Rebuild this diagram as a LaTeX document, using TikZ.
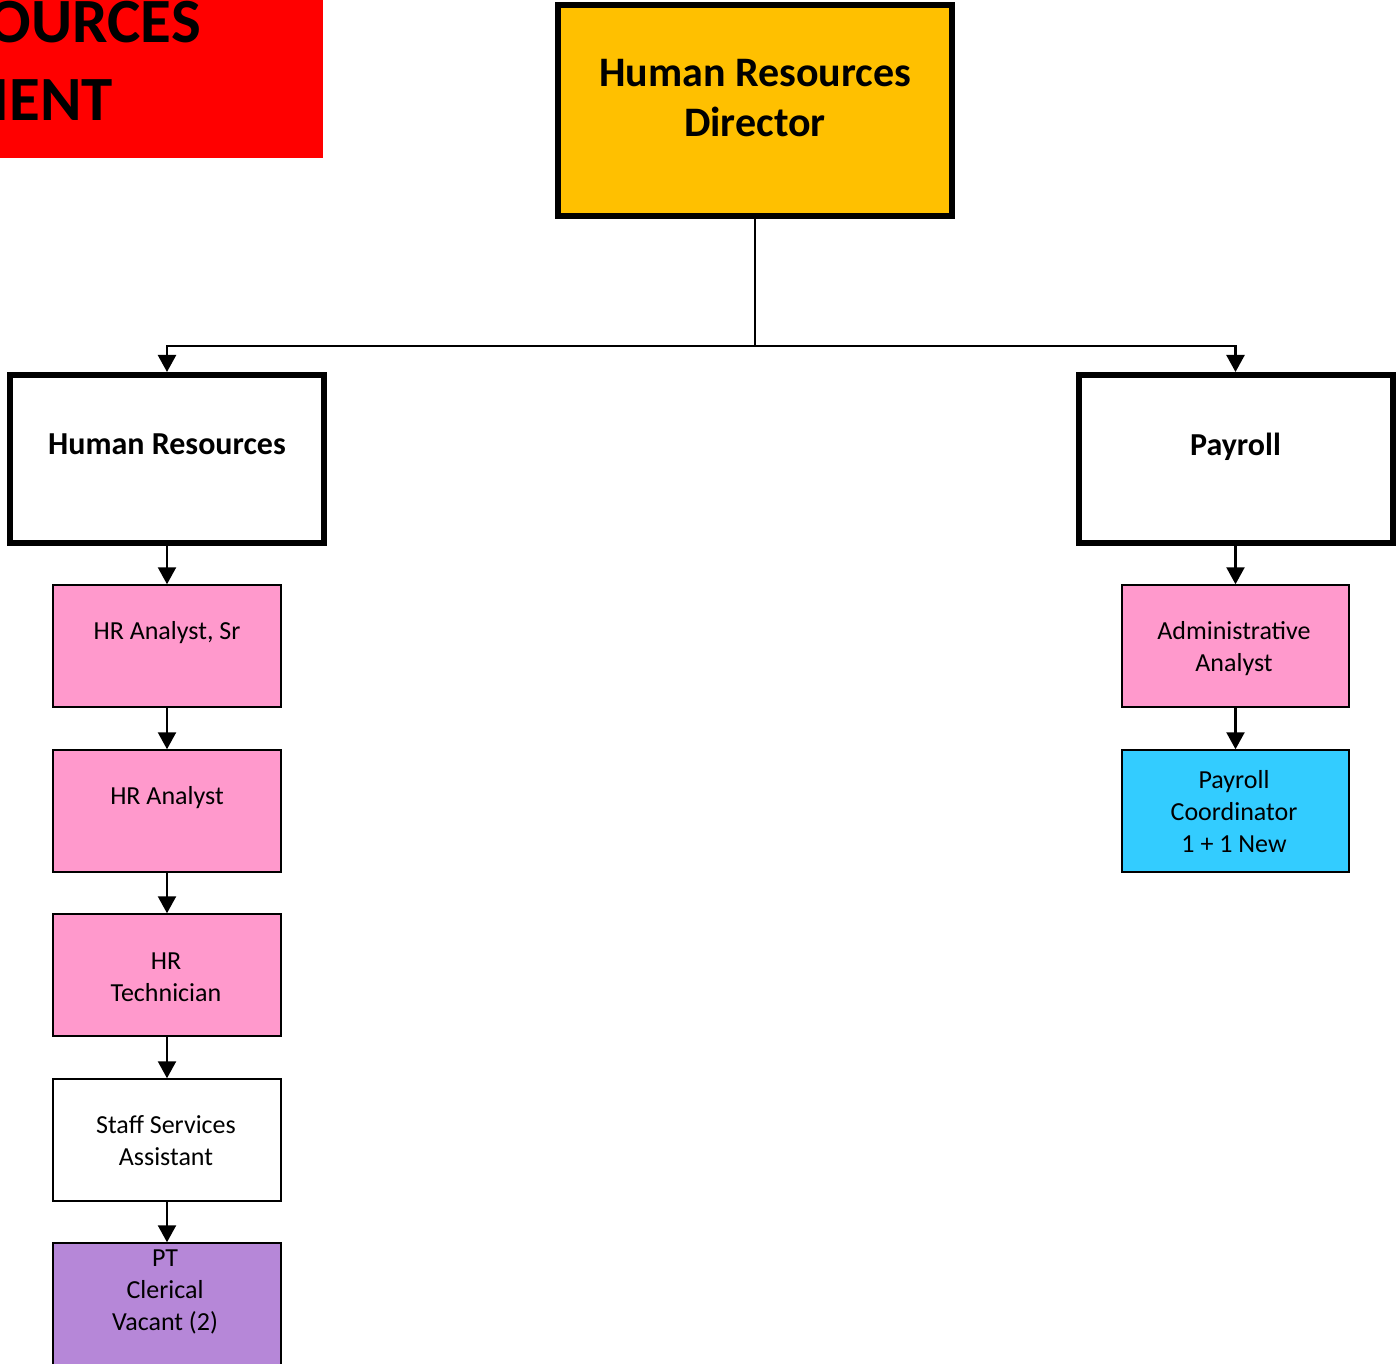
\documentclass[tikz,border=0pt]{standalone}
\usepackage{fontspec}
\setmainfont{Carlito}
\usetikzlibrary{arrows.meta}
\definecolor{dirgold}{HTML}{FFC000}
\definecolor{rolepink}{HTML}{FF99CC}
\definecolor{roleblue}{HTML}{33CCFF}
\definecolor{rolepurple}{HTML}{B687D8}
\definecolor{bannerred}{HTML}{FF0000}
\tikzset{
  headbox/.style={draw=black, line width=6pt, inner sep=0pt, minimum width=314pt, minimum height=168pt},
  rolebox/.style={draw=black, line width=1.5pt, inner sep=0pt, minimum width=228pt, minimum height=122pt},
  roletext/.style={anchor=base, align=center, inner sep=0pt, font=\fontsize{26}{32}\selectfont},
  headtext/.style={anchor=base, inner sep=0pt, font=\fontsize{32}{38}\selectfont\bfseries},
  link/.style={line width=2.4pt, draw=black},
  linkarrow/.style={link, -{Triangle[length=17pt,width=18pt]}},
}
\begin{document}
\begin{tikzpicture}[x=1pt, y=-1pt]
  \useasboundingbox (0,0) rectangle (1398,1364);
  \clip (0,0) rectangle (1398,1364);

  % banner in the corner (runs off the left edge)
  \fill[bannerred] (-20,-20) rectangle (323,158);
  \node[anchor=base east, inner sep=0pt, font=\fontsize{63}{76}\selectfont\bfseries] (ban1) at (201,43) {OURCES};
  \node[anchor=base east, inner sep=0pt, font=\fontsize{63}{76}\selectfont\bfseries] (ban2) at (113,121) {IENT};

  % director
  \node[draw=black, fill=dirgold, line width=6pt, inner sep=0pt, minimum width=394pt, minimum height=211pt] (dir) at (755,110.5) {};
  \node[anchor=base, align=center, inner sep=0pt, font=\fontsize{42}{50}\selectfont\bfseries] (dirt) at (755,137) {Human Resources\\Director};

  % division heads
  \node[headbox] (hr) at (167,459) {};
  \node[headtext] (hrt) at (167,454) {Human Resources};
  \node[headbox] (pay) at (1235.5,459) {};
  \node[headtext] (payt) at (1235.5,455) {Payroll};

  % human resources column (text anchored on the last line's baseline)
  \node[rolebox, fill=rolepink] (sr) at (167,646) {};
  \node[roletext] (srt) at (167,639) {HR Analyst, Sr};
  \node[rolebox, fill=rolepink] (an) at (167,811) {};
  \node[roletext] (ant) at (167,804) {HR Analyst};
  \node[rolebox, fill=rolepink] (tech) at (167,975) {};
  \node[roletext] (techt) at (166,1001) {HR\\Technician};
  \node[rolebox, fill=white] (ssa) at (167,1140) {};
  \node[roletext] (ssat) at (166,1165) {Staff Services\\Assistant};
  \node[rolebox, fill=rolepurple] (pt) at (167,1304) {};
  \node[roletext] (ptt) at (165,1330) {PT\\Clerical\\Vacant (2)};

  % payroll column
  \node[rolebox, minimum width=227pt, fill=rolepink] (adm) at (1235.5,646) {};
  \node[roletext] (admt) at (1234,671) {Administrative\\Analyst};
  \node[rolebox, minimum width=227pt, fill=roleblue] (coord) at (1235.5,811) {};
  \node[roletext] (coordt) at (1234,852) {Payroll\\Coordinator\\1 + 1 New};

  % reporting lines
  \coordinate (bus) at (755,346);
  \draw[link] (dir.south) -- (bus);
  \draw[linkarrow] (bus) -| (hr.north);
  \draw[linkarrow] (bus) -| (pay.north);
  \draw[linkarrow] (hr.south) -- (sr.north);
  \draw[linkarrow] (sr.south) -- (an.north);
  \draw[linkarrow] (an.south) -- (tech.north);
  \draw[linkarrow] (tech.south) -- (ssa.north);
  \draw[linkarrow] (ssa.south) -- (pt.north);
  \draw[linkarrow] (pay.south) -- (adm.north);
  \draw[linkarrow] (adm.south) -- (coord.north);
\end{tikzpicture}
\end{document}
